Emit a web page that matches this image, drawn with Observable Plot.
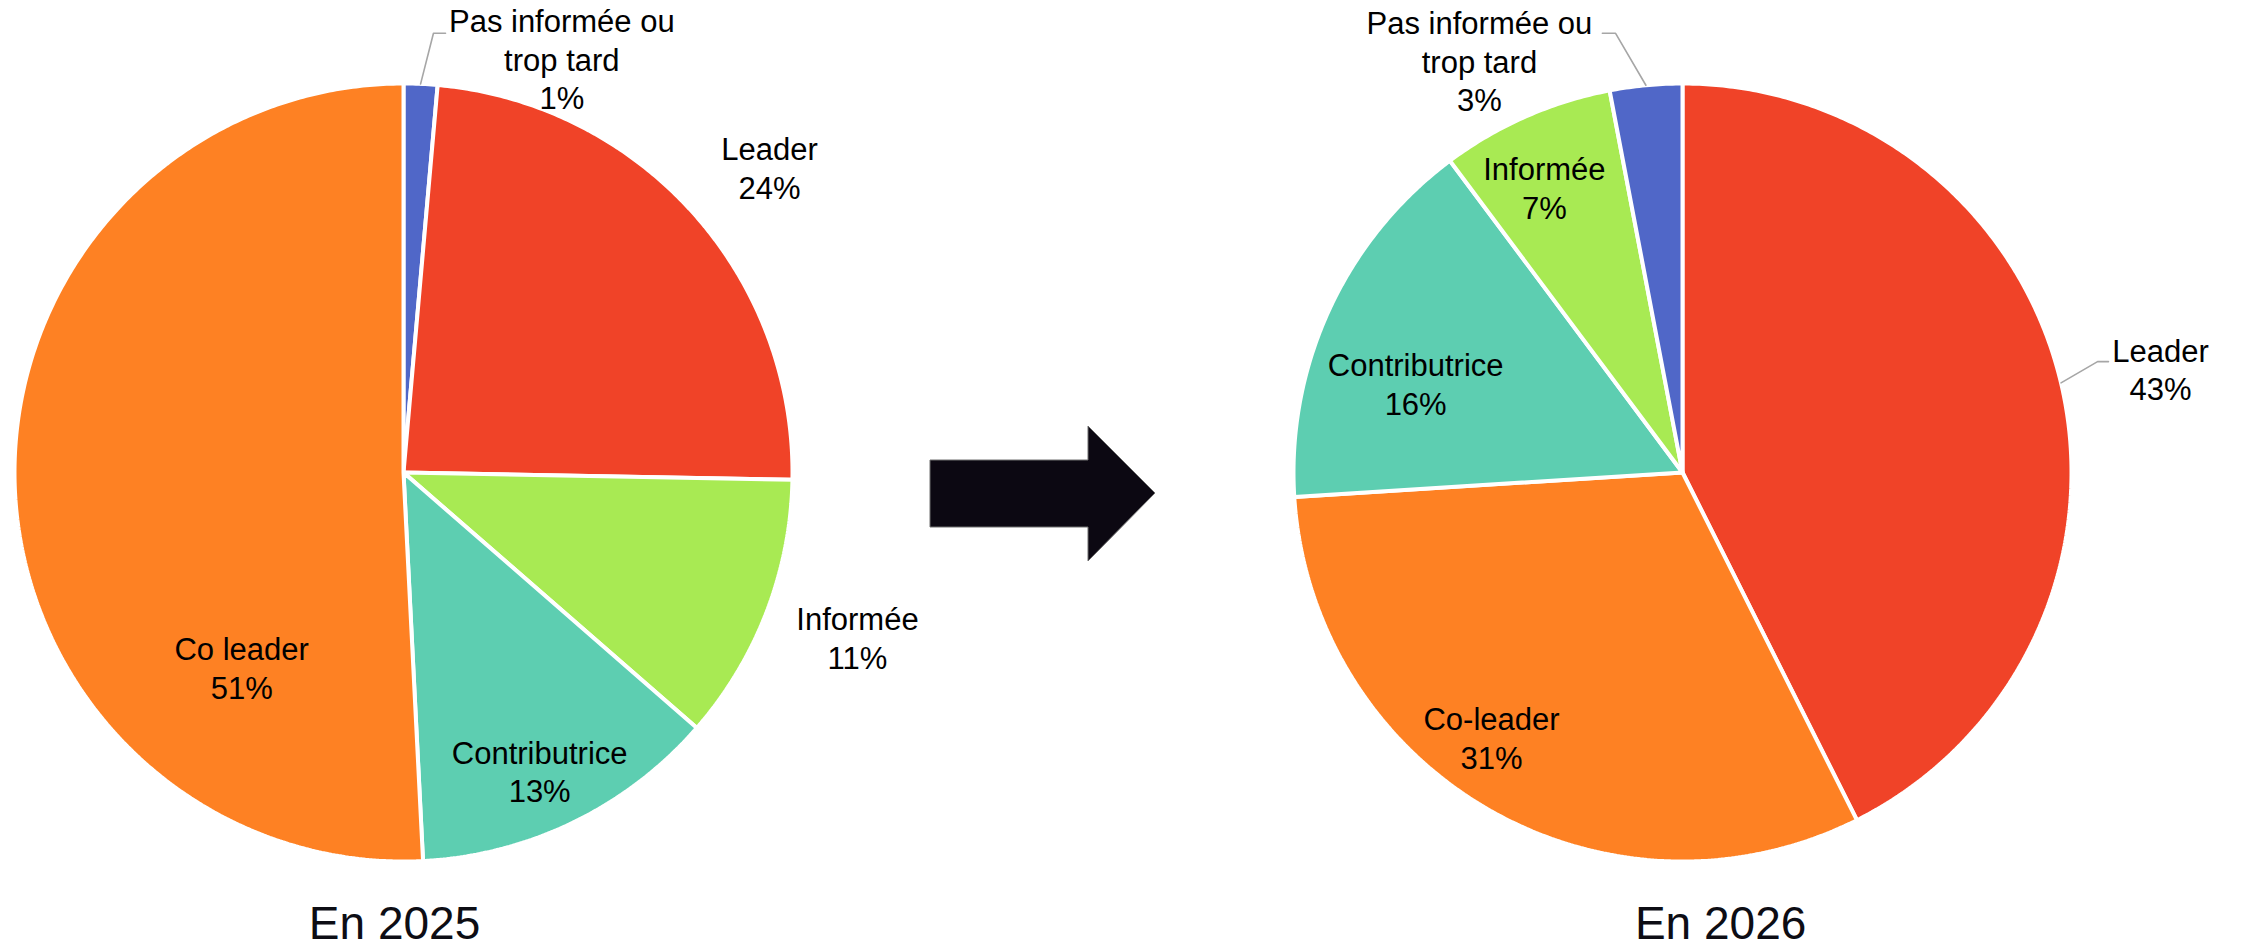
<!DOCTYPE html>
<html>
<head>
<meta charset="utf-8">
<script src="https://cdn.jsdelivr.net/npm/d3@7"></script>
<script src="https://cdn.jsdelivr.net/npm/@observablehq/plot@0.6"></script>
<style>
  html, body { margin: 0; padding: 0; background: #ffffff; }
  #wrap { position: relative; width: 2241px; height: 951px; overflow: hidden; }
  #wrap svg.arrow { position: absolute; left: 0; top: 0; pointer-events: none; }
</style>
</head>
<body>
<div id="wrap"></div>
<script>
// ---------------- data ----------------
const categoryKeys   = ["pas", "leader", "informee", "contributrice", "coleader"];
const categoryColors = ["#5067C8", "#F04328", "#A8EA53", "#5DCEB1", "#FE8123"];

const titles = ["En 2025", "En 2026"];

// 2025 (clockwise from 12 o'clock)
const keys2025   = ["pas", "leader", "informee", "contributrice", "coleader"];
const labels2025 = ["Pas informée ou\ntrop tard", "Leader", "Informée", "Contributrice", "Co leader"];
const values2025 = [1.4, 23.9, 11.1, 12.8, 50.8];

// 2026 (clockwise from 12 o'clock)
const keys2026   = ["leader", "coleader", "contributrice", "informee", "pas"];
const labels2026 = ["Leader", "Co-leader", "Contributrice", "Informée", "Pas informée ou\ntrop tard"];
const values2026 = [42.6, 31.4, 15.8, 7.2, 3.0];

// ---------------- layout (not data) ----------------
const W = 2241, H = 951;
const PX = 389;               // pixels per pie radius
const CXPX = [403, 1682];     // pie centres (px)
const CYPX = 472;
const pieOffset = CXPX.map(c => (c - CXPX[0]) / PX);

// label anchor (block centre) relative to pie centre, in radius units (y up)
const labelPos2025 = {
  pas: [0.407, 1.065], leader: [0.941, 0.786], informee: [1.167, -0.423],
  contributrice: [0.350, -0.766], coleader: [-0.416, -0.500]
};
const labelPos2026 = {
  pas: [-0.522, 1.060], informee: [-0.355, 0.734], contributrice: [-0.686, 0.229],
  leader: [1.229, 0.267], coleader: [-0.491, -0.680]
};
// leader-line elbows for outside labels: [elbow, end] relative to pie centre
const leaders = [
  {pie: 0, key: "pas",    pts: [[0.077, 1.129], [0.108, 1.129]]},
  {pie: 1, key: "pas",    pts: [[-0.172, 1.129], [-0.206, 1.129]]},
  {pie: 1, key: "leader", pts: [[1.067, 0.285], [1.095, 0.285]]}
];
const titlePos = [[-0.023, -1.2005], [0.098, -1.2005]];

// ---------------- build marks data ----------------
const pies = [
  {keys: keys2025, labels: labels2025, values: values2025, pos: labelPos2025},
  {keys: keys2026, labels: labels2026, values: values2026, pos: labelPos2026}
];

const slicePts = [];
const labelRows = [];
const midAngles = [{}, {}];
pies.forEach((p, pi) => {
  const cx = pieOffset[pi];
  const arcs = d3.pie().sort(null).startAngle(0).endAngle(2 * Math.PI)(p.values);
  arcs.forEach((a, i) => {
    const id = pi + "-" + i;
    const key = p.keys[i];
    midAngles[pi][key] = (a.startAngle + a.endAngle) / 2;
    const n = Math.max(2, Math.ceil((a.endAngle - a.startAngle) / (Math.PI / 360)));
    slicePts.push({id, key, x: cx, y: 0});
    for (let j = 0; j <= n; j++) {
      const t = a.startAngle + (a.endAngle - a.startAngle) * j / n;
      slicePts.push({id, key, x: cx + Math.sin(t), y: Math.cos(t)});
    }
    slicePts.push({id, key, x: cx, y: 0});
    const lp = p.pos[key];
    labelRows.push({x: cx + lp[0], y: lp[1], text: p.labels[i] + "\n" + Math.round(p.values[i]) + "%"});
  });
});

const leaderPts = [];
leaders.forEach((l, li) => {
  const cx = pieOffset[l.pie];
  const m = midAngles[l.pie][l.key];
  leaderPts.push({id: li, x: cx + Math.sin(m), y: Math.cos(m)});
  l.pts.forEach(q => leaderPts.push({id: li, x: cx + q[0], y: q[1]}));
});

const titleRows = titles.map((t, i) => ({x: pieOffset[i] + titlePos[i][0], y: titlePos[i][1], text: t}));

const font = "'Liberation Sans', Arial, Helvetica, sans-serif";

const chart = Plot.plot({
  width: W,
  height: H,
  margin: 0,
  style: {fontFamily: font, background: "#ffffff"},
  x: {domain: [-CXPX[0] / PX, (W - CXPX[0]) / PX], range: [0, W], axis: null},
  y: {domain: [(CYPX - H) / PX, CYPX / PX], range: [H, 0], axis: null},
  color: {domain: categoryKeys, range: categoryColors},
  marks: [
    Plot.line(slicePts, {x: "x", y: "y", z: "id", fill: "key", stroke: "#ffffff", strokeWidth: 4, strokeLinejoin: "miter", curve: "linear"}),
    Plot.line(leaderPts, {x: "x", y: "y", z: "id", stroke: "#a6a6a6", strokeWidth: 1.6}),
    Plot.text(labelRows, {x: "x", y: "y", text: "text", fontSize: 31, lineHeight: 1.25, fill: "#000000", fontFamily: font}),
    Plot.text(titleRows, {x: "x", y: "y", text: "text", fontSize: 46, lineAnchor: "bottom", fill: "#0d0d14", fontFamily: font})
  ]
});

const wrap = document.getElementById("wrap");
wrap.appendChild(chart);

// decorative arrow between the two pies
const ns = "http://www.w3.org/2000/svg";
const arrow = document.createElementNS(ns, "svg");
arrow.setAttribute("class", "arrow");
arrow.setAttribute("width", W);
arrow.setAttribute("height", H);
const poly = document.createElementNS(ns, "polygon");
poly.setAttribute("points", "930,460 1088,460 1088,426 1155,493 1088,561 1088,527 930,527");
poly.setAttribute("fill", "#0c0812");
poly.setAttribute("stroke", "#6e6e6e");
poly.setAttribute("stroke-width", "1");
arrow.appendChild(poly);
wrap.appendChild(arrow);
</script>
</body>
</html>
